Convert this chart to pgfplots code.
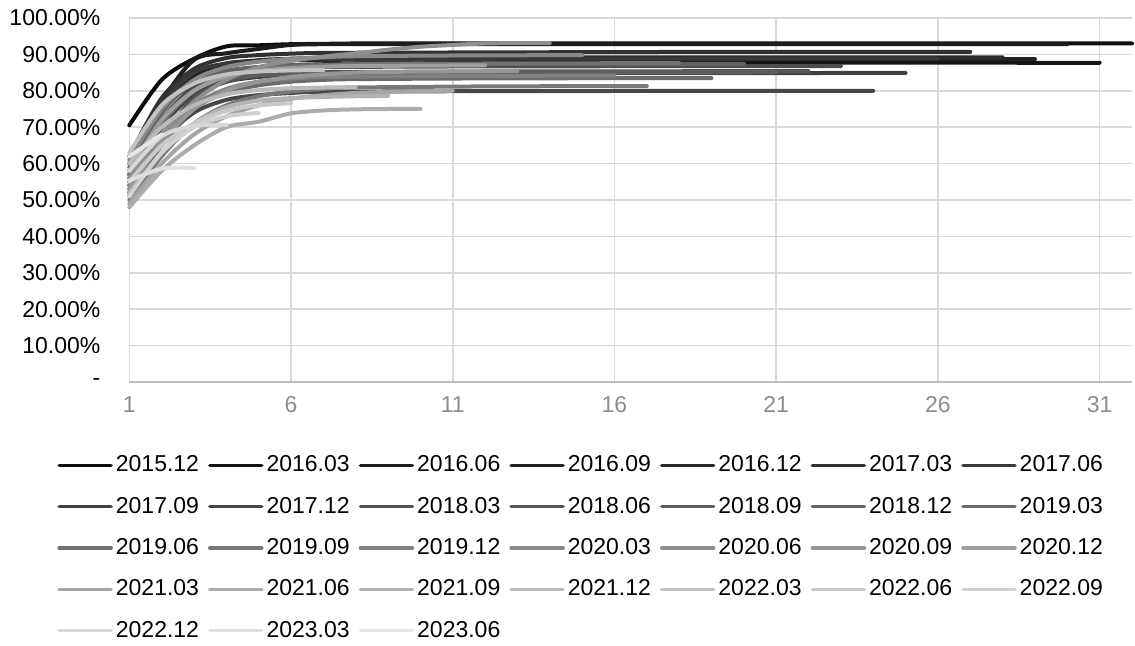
\documentclass[border=0pt]{standalone}
\usepackage{pgfplots}
\pgfplotsset{compat=1.18}
\usepackage{fontspec}
\setmainfont{Liberation Sans}
\definecolor{gridc}{HTML}{D9D9D9}
\definecolor{axc}{HTML}{BFBFBF}
\begin{document}
\begin{tikzpicture}
\useasboundingbox (0,0) rectangle (567.5pt,323pt);
\begin{axis}[
 at={(64.65pt,132pt)}, anchor=south west,
 width=501.35pt, height=182pt, scale only axis,
 xmin=1, xmax=32, ymin=0, ymax=100,
 xtick={1,6,11,16,21,26,31},
 xticklabels={1,6,11,16,21,26,31},
 ytick={0,10,20,30,40,50,60,70,80,90,100},
 yticklabels={{-\hspace{6pt}},{10.00\%},{20.00\%},{30.00\%},{40.00\%},{50.00\%},{60.00\%},{70.00\%},{80.00\%},{90.00\%},{100.00\%}},
 grid=major, major grid style={gridc, line width=0.75pt},
 axis x line*=bottom, axis y line*=left,
 x axis line style={axc, line width=0.75pt, -},
 y axis line style={draw=none},
 major tick length=0pt, tick style={draw=none},
 every tick label/.append style={font=\fontsize{11.5}{13}\selectfont},
 xticklabel style={black!45, anchor=north, inner sep=0pt, yshift=-7pt},
 yticklabel style={black, anchor=east, inner sep=0pt, xshift=-14.3pt},
 clip=false,
 legend columns=7,
 legend cell align=left,
 legend style={at={(0,0)}, anchor=north west, xshift=-36.15pt, yshift=-36.25pt,
   draw=none, fill=none, inner sep=0pt, font=\fontsize{11.5}{13}\selectfont,
   nodes={inner sep=0pt, text height=8.5pt, text depth=2pt},
   row sep=10.15pt,
   /tikz/every odd column/.append style={column sep=1.5pt},
   /tikz/every even column/.append style={column sep=4.5pt}},
 legend image code/.code={\draw[#1, line width=1.75pt] (0pt,0pt) -- (26pt,0pt);},
 every axis plot/.append style={line width=2pt, line cap=round, line join=round, smooth, no markers},
]
\addplot[color=black!94.9] coordinates {(1,70.5)(2,83)(3,88.8)(4,92.2)(5,92.5)(6,92.8)(7,92.9)(8,93.0)(10,93.0)(16,93.0)(24,93.0)(32,93.0)};
\addplot[color=black!92.1] coordinates {(1,55)(2,70)(3,80.5)(4,85)(5,86.5)(6,87)(7,87.3)(8,87.5)(12,87.6)(20,87.7)(31,87.7)};
\addplot[color=black!89.2] coordinates {(1,60)(2,77)(3,88.5)(4,90.3)(5,91.5)(6,92.6)(7,92.8)(8,92.8)(16,92.8)(30,92.8)};
\addplot[color=black!86.4] coordinates {(1,57)(2,74)(3,84)(4,87.5)(5,88.2)(6,88.4)(7,88.5)(10,88.6)(20,88.7)(29,88.7)};
\addplot[color=black!83.6] coordinates {(1,52)(2,70)(3,82)(4,87)(5,88.4)(6,88.8)(7,89)(10,89.1)(20,89.2)(28,89.2)};
\addplot[color=black!80.7] coordinates {(1,62)(2,78)(3,86)(4,89)(5,89.8)(6,90.2)(7,90.4)(10,90.5)(20,90.7)(27,90.7)};
\addplot[color=black!77.9] coordinates {(1,58)(2,76)(3,85)(4,87.5)(5,88.2)(6,88.5)(7,88.7)(12,88.8)(26,88.9)};
\addplot[color=black!75.1] coordinates {(1,54)(2,70)(3,79)(4,82.5)(5,83.8)(6,84.3)(7,84.5)(12,84.8)(25,84.9)};
\addplot[color=black!72.2] coordinates {(1,53)(2,66)(3,74)(4,77.5)(5,78.8)(6,79.4)(7,79.7)(12,79.9)(24,80)};
\addplot[color=black!69.4] coordinates {(1,56)(2,72)(3,81)(4,84.5)(5,85.7)(6,86.2)(7,86.5)(12,86.7)(23,86.8)};
\addplot[color=black!66.6] coordinates {(1,51)(2,67)(3,78)(4,82.5)(5,84.2)(6,84.8)(7,85.1)(12,85.3)(22,85.4)};
\addplot[color=black!63.7] coordinates {(1,55)(2,71)(3,80)(4,83.3)(5,84.3)(6,84.7)(7,84.9)(12,85)(21,85.1)};
\addplot[color=black!60.9] coordinates {(1,59)(2,74)(3,82.5)(4,85.5)(5,86.5)(6,87)(7,87.2)(12,87.3)(20,87.4)};
\addplot[color=black!58.1] coordinates {(1,52)(2,65)(3,75)(4,79.5)(5,81.5)(6,82.5)(7,83)(8,83.2)(12,83.4)(19,83.5)};
\addplot[color=black!55.2] coordinates {(1,57)(2,71)(3,80)(4,84)(5,85.8)(6,86.6)(7,87)(8,87.3)(12,87.5)(18,87.6)};
\addplot[color=black!52.4] coordinates {(1,50)(2,62)(3,71)(4,76)(5,78.5)(6,79.8)(7,80.5)(8,80.9)(12,81.2)(17,81.3)};
\addplot[color=black!49.5] coordinates {(1,54)(2,67)(3,76)(4,80.5)(5,82.5)(6,83.3)(7,83.8)(10,84)(16,84.2)};
\addplot[color=black!46.7] coordinates {(1,61)(2,75)(3,83)(4,86.5)(5,88)(6,88.8)(7,89.2)(8,89.5)(11,89.7)(15,89.8)};
\addplot[color=black!43.9] coordinates {(1,56)(2,68)(3,77)(4,83)(5,86.5)(6,88.2)(7,89.4)(8,90.3)(9,91.3)(10,92.1)(11,92.6)(12,93)(13,93.1)(14,93.1)};
\addplot[color=black!41.0] coordinates {(1,53)(2,66)(3,75)(4,80)(5,82.5)(6,83.8)(7,84.5)(8,85)(9,85.2)(13,85.4)};
\addplot[color=black!38.2] coordinates {(1,58)(2,72)(3,80)(4,84)(5,85.5)(6,86.2)(7,86.6)(8,86.8)(12,87)};
\addplot[color=black!35.4] coordinates {(1,49)(2,60)(3,68)(4,73)(5,76)(6,77.8)(7,78.8)(8,79.4)(9,79.7)(10,79.9)(11,80)};
\addplot[color=black!32.5] coordinates {(1,48)(2,58)(3,65)(4,70)(5,71.5)(6,73.8)(7,74.6)(8,74.9)(9,75)(10,75)};
\addplot[color=black!29.7] coordinates {(1,52)(2,63)(3,71)(4,75.5)(5,77.3)(6,78)(7,78.3)(8,78.5)(9,78.6)};
\addplot[color=black!26.9] coordinates {(1,60)(2,70)(3,76)(4,79)(5,80.2)(6,80.7)(7,80.9)(8,81)};
\addplot[color=black!24.0] coordinates {(1,63)(2,76)(3,82)(4,84.5)(5,85.3)(6,85.6)(7,85.7)};
\addplot[color=black!21.2] coordinates {(1,55)(2,65)(3,71)(4,74.5)(5,76)(6,76.6)};
\addplot[color=black!18.4] coordinates {(1,51)(2,63)(3,70)(4,73)(5,73.9)};
\addplot[color=black!15.5] coordinates {(1,58)(2,67.5)(3,70.3)(4,70.6)};
\addplot[color=black!12.7] coordinates {(1,55.3)(2,58.6)(3,58.8)};
\addplot[color=black!9.9] coordinates {(1,62)(2,68)};
\legend{2015.12,2016.03,2016.06,2016.09,2016.12,2017.03,2017.06,2017.09,2017.12,2018.03,2018.06,2018.09,2018.12,2019.03,2019.06,2019.09,2019.12,2020.03,2020.06,2020.09,2020.12,2021.03,2021.06,2021.09,2021.12,2022.03,2022.06,2022.09,2022.12,2023.03,2023.06}
\end{axis}
\end{tikzpicture}
\end{document}
